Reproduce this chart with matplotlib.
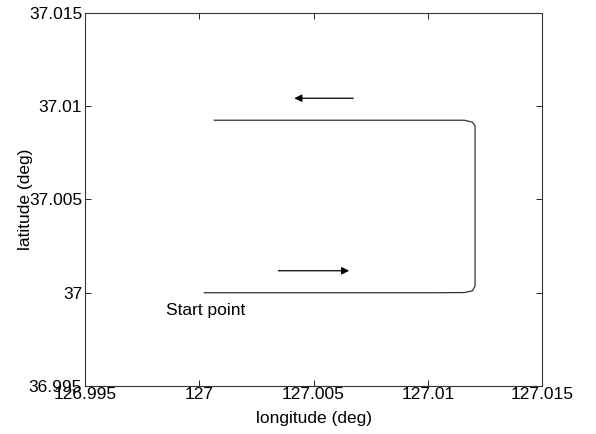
import matplotlib.pyplot as plt

plt.rcParams['font.family'] = ['Liberation Sans', 'DejaVu Sans']

# trajektoria (lon, lat)
lon = [127.00022, 127.0050, 127.0100, 127.0116, 127.01195, 127.01207,
       127.01207, 127.01195, 127.0116, 127.0100, 127.0050, 127.00066]
lat = [37.00000, 37.00000, 37.00000, 37.00001, 37.00010, 37.00035,
       37.00895, 37.00915, 37.00925, 37.00925, 37.00925, 37.00925]

# strzalki kierunku
arrow_lo = [(127.00346, 37.00118), (127.00656, 37.00118)]
arrow_hi = [(127.00674, 37.01043), (127.00416, 37.01043)]
start_lbl = (127.0003, 36.99903)

xticks = [126.995, 127, 127.005, 127.01, 127.015]
yticks = [36.995, 37, 37.005, 37.01, 37.015]
xtick_labels = ['126.995', '127', '127.005', '127.01', '127.015']
ytick_labels = ['36.995', '37', '37.005', '37.01', '37.015']

fs = 12.5

fig = plt.figure(figsize=(5.96, 4.34), dpi=100)
ax = fig.add_axes([85/596, 1-386/434, (542-85)/596, (386-13)/434])

ax.plot(lon, lat, color='#333333', linewidth=0.9)

for a in (arrow_lo, arrow_hi):
    ax.annotate('', xy=a[1], xytext=a[0],
                arrowprops=dict(arrowstyle='-|>', color='black', lw=0.9,
                                mutation_scale=11, shrinkA=0, shrinkB=0))

ax.text(start_lbl[0], start_lbl[1], 'Start point', fontsize=fs,
        ha='center', va='center')

ax.set_xlim(126.995, 127.015)
ax.set_ylim(36.995, 37.015)
ax.set_xticks(xticks)
ax.set_xticklabels(xtick_labels)
ax.set_yticks(yticks)
ax.set_yticklabels(ytick_labels)
ax.tick_params(direction='in', length=4, width=0.6, labelsize=fs,
               top=True, right=True)
ax.tick_params(axis='x', pad=1)
ax.tick_params(axis='y', pad=2)
for s in ax.spines.values():
    s.set_linewidth(0.8)
    s.set_color('#333333')

ax.set_xlabel('longitude (deg)', fontsize=fs)
ax.xaxis.set_label_coords(0.5, -(418 - 386) / 373)
ax.xaxis.label.set_va('center')
ax.set_ylabel('latitude (deg)', fontsize=fs)
ax.yaxis.set_label_coords(-52/457, 0.5)

plt.savefig('out.png', dpi=100)
